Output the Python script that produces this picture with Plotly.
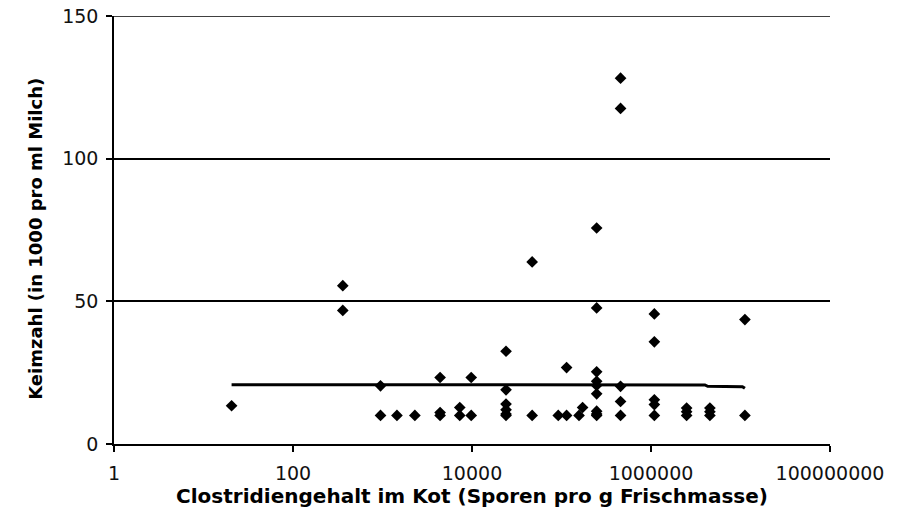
import plotly.graph_objects as go

# Data
spores = [20.6, 360, 360, 950, 950, 1450, 2300, 4400, 4400, 4400, 7300, 7300, 9800, 9800,
          24000, 24000, 24000, 24000, 24000, 24000, 47000, 47000, 92000, 114000, 114000,
          157000, 172000, 247000, 247000, 247000, 247000, 247000, 247000, 247000, 247000, 247000,
          457000, 457000, 457000, 457000, 457000, 1.09e6, 1.09e6, 1.09e6, 1.09e6, 1.09e6,
          2.5e6, 2.5e6, 2.5e6, 4.55e6, 4.55e6, 4.55e6, 1.12e7, 1.12e7]
keimzahl = [13.4, 55.5, 46.8, 20.4, 10, 10, 10, 23.3, 10, 11, 12.8, 10, 23.3, 10,
            32.5, 19, 14, 12, 10.5, 10, 63.8, 10, 10, 10, 26.8,
            10, 12.8, 75.7, 47.7, 25.3, 22, 20.5, 17.6, 11.5, 10.5, 10,
            128.2, 117.6, 20.2, 14.9, 10, 45.6, 35.8, 15.5, 13.8, 10,
            12.6, 11.3, 10, 12.6, 11.3, 10, 43.6, 10]

trend_x = [20.6, 4.0e6, 4.3e6, 1.05e7, 1.12e7]
trend_y = [20.8, 20.7, 20.2, 20.1, 19.5]

x_ticks = [1, 100, 10000, 1000000, 100000000]
x_ticktext = ["1", "100", "10000", "1000000", "100000000"]
y_ticks = [0, 50, 100, 150]
y_max = 150

x_title = "Clostridiengehalt im Kot (Sporen pro g Frischmasse)"
y_title = "Keimzahl (in 1000 pro ml Milch)"

fig = go.Figure()
fig.add_trace(go.Scatter(x=spores, y=keimzahl, mode="markers",
                         marker=dict(symbol="diamond", size=9, color="black"),
                         showlegend=False))
fig.add_trace(go.Scatter(x=trend_x, y=trend_y, mode="lines",
                         line=dict(color="black", width=3), showlegend=False))

font_family = "DejaVu Sans"
fig.update_layout(
    width=897, height=518,
    margin=dict(l=114, r=67, t=16, b=74),
    paper_bgcolor="white", plot_bgcolor="white",
    font=dict(family=font_family, size=16, color="black"),
)
# top border line at the maximum of the y range (drawn like a gridline)
fig.add_shape(type="line", xref="paper", x0=-0.008, x1=1, yref="y", y0=y_max, y1=y_max,
              line=dict(color="black", width=1.5), layer="below")
# y-axis title placed as a rotated annotation (slightly below the plot centre, as in the original)
fig.add_annotation(text="<b>" + y_title + "</b>", textangle=-90,
                   xref="paper", yref="paper", x=-0.110, y=0.48,
                   xanchor="center", yanchor="middle", showarrow=False,
                   font=dict(family=font_family, size=18, color="black"))
fig.update_xaxes(
    type="log", range=[0, 8], automargin=False,
    tickvals=x_ticks, ticktext=x_ticktext,
    showgrid=False, zeroline=False,
    showline=True, linecolor="black", linewidth=1.5,
    ticks="outside", ticklen=6, tickcolor="black", tickwidth=1.5,
    tickfont=dict(family=font_family, size=19, color="#111"),
    ticklabelstandoff=5,
    title=dict(text="<b>" + x_title + "</b>",
               font=dict(family=font_family, size=20, color="black"), standoff=6),
)
fig.update_yaxes(
    range=[0, y_max], tickvals=y_ticks, automargin=False,
    showgrid=True, gridcolor="black", gridwidth=1.5,
    zeroline=False,
    showline=True, linecolor="black", linewidth=1.5,
    ticks="outside", ticklen=6, tickcolor="black", tickwidth=1.5,
    tickfont=dict(family=font_family, size=19, color="#111"),
    ticklabelstandoff=4,
)

fig.write_html("out.html")
